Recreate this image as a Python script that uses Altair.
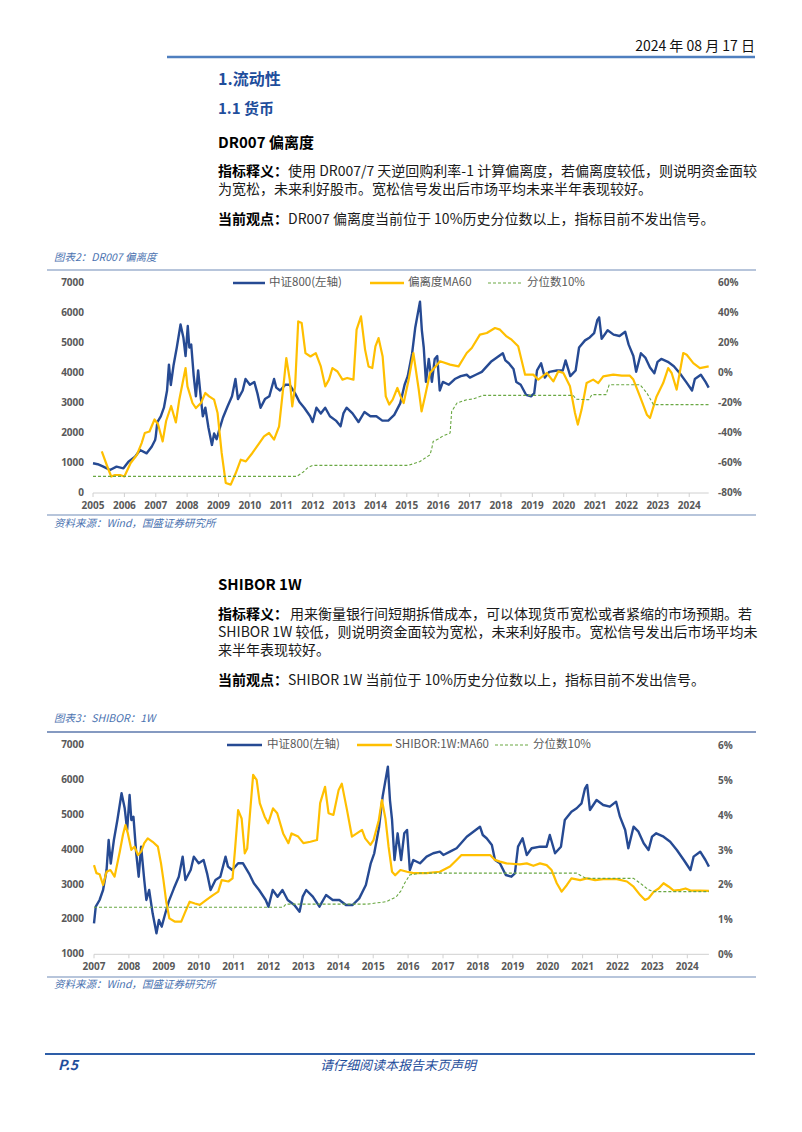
import altair as alt
import pandas as pd

FONT = "Noto Sans CJK SC"
NUMFONT = "Open Sans"

# ---------------- data ----------------
# CSI 800 index (中证800), decimal year / index level
csi_t = [2005.00, 2005.15, 2005.33, 2005.54, 2005.75, 2005.97, 2006.13, 2006.34, 2006.50, 2006.71,
         2006.87, 2006.98, 2007.00, 2007.05, 2007.16, 2007.26, 2007.36, 2007.42, 2007.48, 2007.57,
         2007.67, 2007.79, 2007.88, 2007.95, 2008.02, 2008.07, 2008.13, 2008.21, 2008.28, 2008.35,
         2008.44, 2008.50, 2008.58, 2008.68, 2008.79, 2008.86, 2008.94, 2009.03, 2009.14, 2009.29,
         2009.43, 2009.54, 2009.62, 2009.77, 2009.86, 2010.00, 2010.14, 2010.24, 2010.34, 2010.48,
         2010.62, 2010.77, 2010.84, 2010.96, 2011.13, 2011.27, 2011.44, 2011.58, 2011.73, 2011.92,
         2012.00, 2012.12, 2012.26, 2012.40, 2012.55, 2012.74, 2012.89, 2012.98, 2013.08, 2013.27,
         2013.46, 2013.65, 2013.84, 2014.03, 2014.22, 2014.41, 2014.60, 2014.79, 2014.93, 2015.03,
         2015.17, 2015.27, 2015.42, 2015.48, 2015.54, 2015.61, 2015.70, 2015.80, 2015.89, 2015.97,
         2016.05, 2016.15, 2016.34, 2016.53, 2016.72, 2016.91, 2017.01, 2017.20, 2017.39, 2017.68,
         2017.87, 2018.06, 2018.14, 2018.25, 2018.40, 2018.49, 2018.63, 2018.80, 2018.96, 2019.06,
         2019.15, 2019.28, 2019.40, 2019.54, 2019.78, 2019.97, 2020.06, 2020.21, 2020.38, 2020.49,
         2020.68, 2020.83, 2020.97, 2021.07, 2021.13, 2021.21, 2021.40, 2021.59, 2021.78, 2021.96,
         2022.07, 2022.22, 2022.31, 2022.46, 2022.60, 2022.75, 2022.89, 2022.99, 2023.11, 2023.32,
         2023.51, 2023.70, 2023.90, 2024.09, 2024.18, 2024.37, 2024.52, 2024.62]
csi_v = [990, 960, 878, 767, 878, 822, 1044, 1211, 1433, 1322,
         1544, 1767, 1889, 2365, 2557, 2843, 3417, 4277, 3600, 4277,
         4850, 5616, 5186, 4563, 5566, 4850, 4946, 3896, 3225, 4086,
         3130, 2557, 2843, 2175, 1602, 1984, 1793, 2127, 2509, 2891,
         3225, 3799, 3130, 3417, 3799, 3608, 3703, 3321, 2843, 3130,
         3225, 3799, 3512, 3417, 3608, 3608, 3321, 3034, 2843, 2557,
         2365, 2843, 2652, 2843, 2557, 2413, 2222, 2652, 2843, 2652,
         2365, 2700, 2557, 2557, 2413, 2413, 2604, 2986, 3608, 3896,
         4659, 5519, 6379, 5423, 4850, 3703, 4468, 3703, 4468, 4563,
         3417, 3703, 3609, 3799, 3896, 3942, 3847, 3942, 4039, 4372,
         4515, 4658, 4420, 4326, 4134, 3703, 3609, 3273, 3225, 3322,
         4085, 4326, 3847, 4039, 4085, 4085, 4420, 3896, 4085, 4850,
         5088, 5186, 5329, 5759, 5854, 5137, 5424, 5280, 5232, 5375,
         4945, 4564, 4039, 4658, 4515, 4182, 3990, 4372, 4469, 4372,
         4228, 3990, 3703, 3417, 3799, 3942, 3703, 3512]

# DR007 deviation MA60 (%)
dev_t = [2005.28, 2005.45, 2005.58, 2005.70, 2005.86, 2006.00, 2006.20, 2006.40, 2006.55, 2006.65,
         2006.80, 2006.96, 2007.07, 2007.22, 2007.33, 2007.49, 2007.64, 2007.75, 2007.95, 2008.01,
         2008.17, 2008.28, 2008.44, 2008.58, 2008.70, 2008.86, 2008.97, 2009.10, 2009.23, 2009.39,
         2009.55, 2009.71, 2009.87, 2010.08, 2010.30, 2010.45, 2010.61, 2010.77, 2010.93, 2011.09,
         2011.16, 2011.27, 2011.35, 2011.44, 2011.54, 2011.65, 2011.77, 2011.93, 2012.10, 2012.26,
         2012.40, 2012.52, 2012.63, 2012.79, 2012.95, 2013.10, 2013.30, 2013.40, 2013.54, 2013.67,
         2013.78, 2013.90, 2014.00, 2014.10, 2014.23, 2014.33, 2014.44, 2014.55, 2014.70, 2014.80,
         2014.90, 2015.06, 2015.21, 2015.38, 2015.47, 2015.58, 2015.74, 2016.06, 2016.38, 2016.65,
         2016.91, 2017.07, 2017.33, 2017.55, 2017.81, 2017.97, 2018.18, 2018.34, 2018.55, 2018.77,
         2019.03, 2019.19, 2019.46, 2019.67, 2019.83, 2019.99, 2020.20, 2020.36, 2020.45, 2020.57,
         2020.73, 2020.94, 2021.10, 2021.26, 2021.58, 2021.85, 2022.11, 2022.22, 2022.43, 2022.65,
         2022.75, 2022.96, 2023.17, 2023.33, 2023.44, 2023.60, 2023.81, 2023.92, 2024.13, 2024.34,
         2024.62]
dev_v = [-52.3, -62, -69, -68, -68, -69, -60, -54.5, -46.7, -40,
         -39, -31, -34, -45.6, -32, -22, -33, -17.8, 3.3, -8.9,
         -20, -23.4, -20, -13.3, -15.6, -17.8, -26.7, -53.3, -73.3, -74.4,
         -66.7, -57.8, -58.9, -53.3, -46.7, -42.2, -40, -44.4, -35.6, -4.4,
         10, -4.4, -22.2, -8.9, 34.4, 33.3, 13.3, 11, 13.3, 4.4,
         -8.9, -4.4, 3.3, 1, -4.4, -3.3, -4.4, 28.9, 37.8, 15.6,
         4.4, 3.3, 17.8, 23.3, 11, -15.6, -21, -17.8, -10, -15.6,
         -20, -4.4, 13.3, -11, -25.6, -15.6, 0, 7.8, 5.6, 4.4,
         13.3, 16.7, 25.6, 26.7, 30, 28.9, 24.4, 22.2, 17.8, -1.1,
         -1.1, -4.4, 0, -5.6, 1.1, 0, -8.9, -26.7, -34.4, -24.4,
         -6.7, -4.4, -6.7, -2.2, -1.1, -1.8, -1.8, -4.4, -15.6, -27.8,
         -30, -15.6, -6.7, 3.3, 0, -11.1, 13.3, 12.2, 6.6, 3.3,
         4.4]

# DR007 deviation 10% quantile (%)
dq_t = [2005.00, 2011.50, 2011.70, 2011.85, 2012.00, 2015.05, 2015.42, 2015.74, 2015.80, 2015.84,
        2016.00, 2016.15, 2016.38, 2016.43, 2016.60, 2016.91, 2017.12, 2017.44, 2020.30, 2020.40,
        2020.80, 2020.90, 2021.35, 2021.45, 2022.43, 2022.65, 2022.86, 2024.62]
dq_v = [-68.9, -68.9, -66, -63, -61.6, -61.6, -59, -54.5, -50, -45.6,
        -44, -42, -40, -25.6, -20, -17.8, -17.3, -14.9, -14.9, -17.5,
        -17.8, -14.4, -14.4, -7.8, -7.8, -13.3, -21.1, -21.1]

# SHIBOR 1W MA60 (%)
shb_t = [2007.00, 2007.07, 2007.16, 2007.26, 2007.36, 2007.47, 2007.59, 2007.74, 2007.83, 2007.90,
         2007.97, 2008.07, 2008.16, 2008.26, 2008.35, 2008.44, 2008.54, 2008.68, 2008.83, 2008.92,
         2008.99, 2009.07, 2009.16, 2009.31, 2009.50, 2009.60, 2009.74, 2009.89, 2010.03, 2010.22,
         2010.41, 2010.56, 2010.66, 2010.85, 2010.97, 2011.04, 2011.13, 2011.23, 2011.32, 2011.39,
         2011.47, 2011.56, 2011.66, 2011.75, 2011.89, 2011.99, 2012.13, 2012.25, 2012.42, 2012.57,
         2012.66, 2012.85, 2013.00, 2013.20, 2013.39, 2013.48, 2013.62, 2013.72, 2013.86, 2014.01,
         2014.10, 2014.25, 2014.39, 2014.53, 2014.68, 2014.77, 2014.92, 2015.01, 2015.16, 2015.25,
         2015.35, 2015.44, 2015.54, 2015.63, 2015.78, 2015.97, 2016.15, 2016.53, 2016.91, 2017.20,
         2017.39, 2017.53, 2018.35, 2018.49, 2018.63, 2018.82, 2019.20, 2019.40, 2019.59, 2019.78,
         2019.97, 2020.11, 2020.26, 2020.40, 2020.55, 2020.68, 2020.93, 2021.12, 2021.36, 2021.59,
         2021.98, 2022.27, 2022.46, 2022.65, 2022.79, 2022.89, 2023.04, 2023.18, 2023.32, 2023.47,
         2023.61, 2023.80, 2023.95, 2024.09, 2024.37, 2024.62]
shb_v = [2.58, 2.35, 2.32, 2.01, 2.39, 2.44, 2.25, 2.97, 3.45, 3.73,
         3.49, 3.02, 3.11, 2.87, 2.97, 3.21, 3.35, 3.25, 3.11, 2.63,
         2.15, 1.53, 1.05, 0.96, 0.96, 1.20, 1.53, 1.48, 1.44, 1.58,
         1.72, 1.82, 2.15, 2.11, 2.20, 3.02, 4.16, 3.92, 2.92, 3.06,
         4.07, 5.17, 5.03, 4.36, 3.97, 3.78, 4.21, 4.07, 3.49, 3.21,
         3.49, 3.40, 3.21, 3.25, 3.30, 4.36, 4.83, 4.07, 4.02, 4.74,
         4.92, 4.16, 3.40, 3.49, 3.59, 3.35, 3.16, 3.30, 3.87, 4.45,
         3.92, 3.11, 2.39, 2.29, 2.44, 2.39, 2.35, 2.35, 2.39, 2.54,
         2.73, 2.87, 2.87, 2.73, 2.68, 2.63, 2.60, 2.63, 2.56, 2.63,
         2.58, 2.44, 2.06, 1.82, 2.01, 2.20, 2.15, 2.20, 2.15, 2.18,
         2.18, 2.11, 1.96, 1.72, 1.58, 1.63, 1.82, 1.91, 2.06, 1.96,
         1.85, 1.87, 1.91, 1.85, 1.85, 1.84]

# SHIBOR 1W 10% quantile (%)
sq_t = [2007.00, 2012.42, 2012.50, 2014.83, 2015.37, 2015.66, 2015.80, 2015.90, 2016.05, 2016.34,
        2020.83, 2021.00, 2021.10, 2022.46, 2022.65, 2022.89, 2023.04, 2024.62]
sq_v = [1.37, 1.37, 1.46, 1.46, 1.53, 1.67, 1.85, 2.06, 2.30, 2.35,
        2.35, 2.25, 2.20, 2.20, 2.06, 1.87, 1.82, 1.82]

# axis ticks
c1_years = list(range(2005, 2025))
c1_left = [0, 1000, 2000, 3000, 4000, 5000, 6000, 7000]
c1_right = [-80, -60, -40, -20, 0, 20, 40, 60]
c2_years = list(range(2007, 2025))
c2_left = [1000, 2000, 3000, 4000, 5000, 6000, 7000]
c2_right = [0, 1, 2, 3, 4, 5, 6]

BLUE = "#264a93"
GOLD = "#ffbf00"
GREEN = "#6aa843"
HEAD = "#1f4e9c"
CAP = "#4a72b0"
AXC = "#595959"


def P(x):
    return x - 8


def Q(y):
    return y - 8


layers = []


def sc(dom, rng):
    return alt.Scale(domain=dom, range=rng, zero=False, nice=False)


def add_text(s, x, y, size=14, weight="normal", color="#1a1a1a", align="left",
             style="normal", font=FONT):
    layers.append(alt.Chart(pd.DataFrame({"s": [s]})).mark_text(
        align=align, baseline="middle", fontSize=size, fontWeight=weight,
        fontStyle=style, color=color, font=font
    ).encode(x=alt.value(P(x)), y=alt.value(Q(y)), text="s:N"))


def add_rule(x1, x2, y, color, width=1.0, dash=None):
    kw = dict(color=color, strokeWidth=width)
    if dash:
        kw["strokeDash"] = dash
    layers.append(alt.Chart(pd.DataFrame({"a": [0]})).mark_rule(**kw).encode(
        x=alt.value(P(x1)), x2=alt.value(P(x2)), y=alt.value(Q(y))))


def add_series(t, v, xsc, ysc, color, width, dash=None):
    df = pd.DataFrame({"t": t, "v": v})
    kw = dict(color=color, strokeWidth=width, strokeJoin="round")
    if dash:
        kw["strokeDash"] = dash
    layers.append(alt.Chart(df).mark_line(**kw).encode(
        x=alt.X("t:Q", scale=xsc, axis=None),
        y=alt.Y("v:Q", scale=ysc, axis=None)))


def add_yticks(vals, labels, ysc, x, align):
    df = pd.DataFrame({"v": vals, "lab": labels})
    layers.append(alt.Chart(df).mark_text(
        align=align, baseline="middle", font=NUMFONT, fontSize=10,
        fontWeight="bold", color=AXC
    ).encode(x=alt.value(P(x)), y=alt.Y("v:Q", scale=ysc, axis=None), text="lab:N"))


def add_xaxis(years, t_end, xsc, y_axis, y_lab):
    layers.append(alt.Chart(pd.DataFrame({"a": [years[0]], "b": [t_end]})).mark_rule(
        color="#d0d0d0", strokeWidth=1).encode(
        x=alt.X("a:Q", scale=xsc, axis=None), x2="b:Q", y=alt.value(Q(y_axis))))
    df = pd.DataFrame({"t": years, "lab": [str(y) for y in years]})
    layers.append(alt.Chart(df).mark_rule(color="#d0d0d0", strokeWidth=1).encode(
        x=alt.X("t:Q", scale=xsc, axis=None),
        y=alt.value(Q(y_axis)), y2=alt.value(Q(y_axis + 4))))
    layers.append(alt.Chart(df).mark_text(
        align="center", baseline="middle", font=NUMFONT, fontSize=10,
        fontWeight="bold", color=AXC
    ).encode(x=alt.X("t:Q", scale=xsc, axis=None), y=alt.value(Q(y_lab)), text="lab:N"))


def add_legend(items, y):
    for (x1, x2, color, width, dash, label, xt) in items:
        add_rule(x1, x2, y, color, width, dash)
        add_text(label, xt, y, size=11.5, color=AXC)


# ---------------- page header ----------------
add_text("2024 年 08 月 17 日", 755, 47, size=14, color="#111111", align="right")
add_rule(167, 755, 57, "#4f7fbf", 2.5)
add_text("1.流动性", 218, 80, size=16, weight="bold", color=HEAD)
add_text("1.1 货币", 218, 109, size=15, weight="bold", color=HEAD)
add_text("DR007 偏离度", 218, 143, size=15, weight="bold", color="#000000")

add_text("指标释义：", 218, 172, weight="bold", color="#000000")
add_text("使用 DR007/7 天逆回购利率-1 计算偏离度，若偏离度较低，则说明资金面较", 288, 172)
add_text("为宽松，未来利好股市。宽松信号发出后市场平均未来半年表现较好。", 218, 190)
add_text("当前观点：", 218, 220, weight="bold", color="#000000")
add_text("DR007 偏离度当前位于 10%历史分位数以上，指标目前不发出信号。", 288, 220)

# ---------------- chart 1 ----------------
add_text("图表2：DR007 偏离度", 54, 258, size=10.5, style="italic", color=CAP)
add_rule(47, 756, 270, "#9fb2cf", 1.5)
add_rule(47, 756, 515, "#9fb2cf", 1.5)
add_text("资料来源：Wind，国盛证券研究所", 54, 524, size=10.5, style="italic", color=CAP)

X1 = sc([2005, 2025], [P(93), P(93 + 20 * 31.38)])
Y1L = sc([0, 7000], [Q(493), Q(283)])
Y1R = sc([-80, 60], [Q(493), Q(283)])

add_xaxis(c1_years, 2024.62, X1, 493, 506)
add_yticks(c1_left, [str(v) for v in c1_left], Y1L, 84, "right")
add_yticks(c1_right, [f"{v}%" for v in c1_right], Y1R, 718, "left")
add_series(csi_t, csi_v, X1, Y1L, BLUE, 2.4)
add_series(dev_t, dev_v, X1, Y1R, GOLD, 2.2)
add_series(dq_t, dq_v, X1, Y1R, GREEN, 1.1, [3, 2])
add_legend([
    (233, 265, BLUE, 2.5, None, "中证800(左轴)", 269),
    (370, 404, GOLD, 2.5, None, "偏离度MA60", 408),
    (488, 522, GREEN, 1.1, [3, 2], "分位数10%", 527),
], 283)

# ---------------- section 2 text ----------------
add_text("SHIBOR 1W", 218, 585, size=15, weight="bold", color="#000000")
add_text("指标释义：", 218, 615, weight="bold", color="#000000")
add_text("用来衡量银行间短期拆借成本，可以体现货币宽松或者紧缩的市场预期。若", 290, 615)
add_text("SHIBOR 1W 较低，则说明资金面较为宽松，未来利好股市。宽松信号发出后市场平均未", 218, 633)
add_text("来半年表现较好。", 218, 651)
add_text("当前观点：", 218, 681, weight="bold", color="#000000")
add_text("SHIBOR 1W 当前位于 10%历史分位数以上，指标目前不发出信号。", 288, 681)

# ---------------- chart 2 ----------------
add_text("图表3：SHIBOR：1W", 54, 719, size=10.5, style="italic", color=CAP)
add_rule(47, 756, 732, "#5c78ad", 1.5)
add_rule(47, 756, 977, "#9fb2cf", 1.5)
add_text("资料来源：Wind，国盛证券研究所", 54, 985, size=10.5, style="italic", color=CAP)

X2 = sc([2007, 2025], [P(94), P(94 + 18 * 34.9)])
Y2L = sc([1000, 7000], [Q(954.3), Q(745)])
Y2R = sc([0, 6], [Q(955), Q(746)])

add_xaxis(c2_years, 2024.62, X2, 954.3, 967)
add_yticks(c2_left, [str(v) for v in c2_left], Y2L, 84, "right")
add_yticks(c2_right, [f"{v}%" for v in c2_right], Y2R, 718, "left")
c2_csi = [(t, v) for t, v in zip(csi_t, csi_v) if t >= 2007]
add_series([a for a, _ in c2_csi], [b for _, b in c2_csi], X2, Y2L, BLUE, 2.4)
add_series(shb_t, shb_v, X2, Y2R, GOLD, 2.2)
add_series(sq_t, sq_v, X2, Y2R, GREEN, 1.1, [3, 2])
add_legend([
    (227, 262, BLUE, 2.5, None, "中证800(左轴)", 267),
    (357, 392, GOLD, 2.5, None, "SHIBOR:1W:MA60", 395),
    (495, 528, GREEN, 1.1, [3, 2], "分位数10%", 533),
], 745)

# ---------------- footer ----------------
add_rule(45, 755, 1054, "#2e5ea8", 2)
add_text("P.5", 58, 1066, size=14, weight="bold", style="italic", color=HEAD)
add_text("请仔细阅读本报告末页声明", 398, 1066, size=13, style="italic", color=HEAD, align="center")

chart = alt.layer(*layers).resolve_scale(
    x="independent", y="independent"
).properties(
    width=786, height=1116,
    autosize=alt.AutoSizeParams(type="none"),
    padding=0, background="white"
).configure_view(stroke=None)

chart.save("out.html", embed_options={"renderer": "svg", "actions": False})
